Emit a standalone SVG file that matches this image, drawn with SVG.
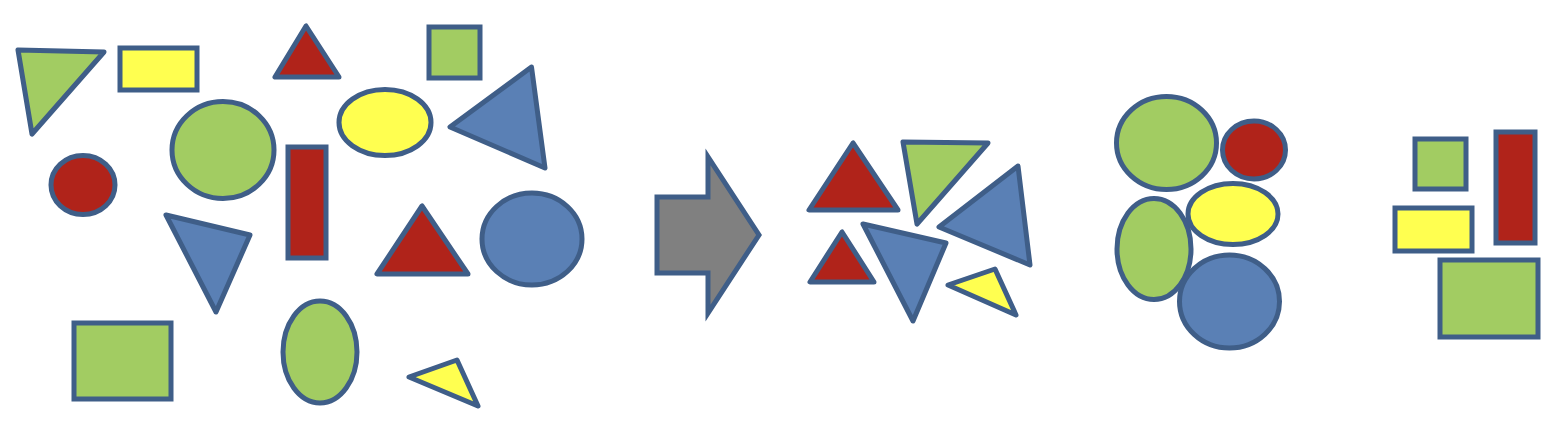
<svg xmlns="http://www.w3.org/2000/svg" width="1564" height="434" viewBox="0 0 1564 434">
<style>
.s{stroke:#3F5E88;stroke-width:5;stroke-linejoin:round}
.r{stroke:#3F5E88;stroke-width:5;stroke-linejoin:miter}
.g{fill:#A2CC62}
.y{fill:#FFFF50}
.d{fill:#B0231A}
.b{fill:#5A80B5}
.k{fill:#808080}
</style>
<rect width="1564" height="434" fill="#FFFFFF"/>
<g id="scattered">
<polygon class="s g" points="18,50 104,52 32,134"/>
<rect class="r y" x="120" y="48" width="77" height="42"/>
<polygon class="s d" points="306,26 275,77 339,77"/>
<rect class="r g" x="429" y="27" width="51" height="51"/>
<path class="s y" d="M339,122.5 A46,33 0 1,0 431,122.5 A46,33 0 1,0 339,122.5 Z"/>
<polygon class="s b" points="531.5,67 450,127 545,168"/>
<path class="s d" d="M51,185 A32,29.5 0 1,0 115,185 A32,29.5 0 1,0 51,185 Z"/>
<path class="s g" d="M172,150 A51,48.5 0 1,0 274,150 A51,48.5 0 1,0 172,150 Z"/>
<rect class="r d" x="288" y="147" width="38" height="111"/>
<polygon class="s b" points="166,215 250,235 216,312"/>
<polygon class="s d" points="422,206 377,274 468,274"/>
<path class="s b" d="M482,239 A50,46 0 1,0 582,239 A50,46 0 1,0 482,239 Z"/>
<rect class="r g" x="74" y="323" width="97" height="76"/>
<path class="s g" d="M283,352 A37,51 0 1,0 357,352 A37,51 0 1,0 283,352 Z"/>
<polygon class="s y" points="409,377 457,360 478,406"/>
</g>
<g id="arrow">
<polygon class="r k" points="657,197 708,197 708,157 759,235 708,313 708,273 657,273"/>
</g>
<g id="triangles">
<polygon class="s d" points="853,143 809,210 898,210"/>
<polygon class="s g" points="903,142 988,143 917,224"/>
<polygon class="s b" points="1018,166 939,227 1030,265"/>
<polygon class="s d" points="842,232 810,282 874,282"/>
<polygon class="s b" points="863,224 946,243 913,321"/>
<polygon class="s y" points="948,285 995,269 1016,315"/>
</g>
<g id="ellipses">
<path class="s g" d="M1116.5,143 A50,46.5 0 1,0 1216.5,143 A50,46.5 0 1,0 1116.5,143 Z"/>
<path class="s d" d="M1222.5,150 A31.5,29 0 1,0 1285.5,150 A31.5,29 0 1,0 1222.5,150 Z"/>
<path class="s g" d="M1117,249 A37,50.5 0 1,0 1191,249 A37,50.5 0 1,0 1117,249 Z"/>
<path class="s y" d="M1188,214 A45,30.5 0 1,0 1278,214 A45,30.5 0 1,0 1188,214 Z"/>
<path class="s b" d="M1179.5,301.5 A50,46.5 0 1,0 1279.5,301.5 A50,46.5 0 1,0 1179.5,301.5 Z"/>
</g>
<g id="rectangles">
<rect class="r g" x="1415" y="139" width="51" height="50"/>
<rect class="r d" x="1496" y="132" width="39" height="111"/>
<rect class="r y" x="1395" y="208" width="77" height="43"/>
<rect class="r g" x="1440" y="260" width="98" height="77"/>
</g>
</svg>
